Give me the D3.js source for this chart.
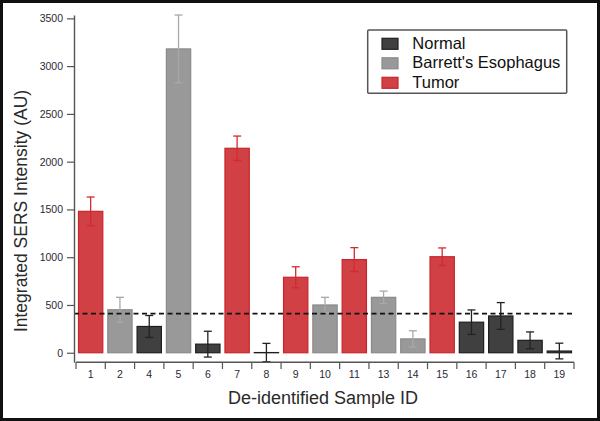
<!DOCTYPE html>
<html>
<head>
<meta charset="utf-8">
<script src="https://cdn.jsdelivr.net/npm/d3@7"></script>
<style>
  html, body { margin: 0; padding: 0; background: #fff; }
  svg { display: block; }
  text { font-family: "Liberation Sans", Arial, Helvetica, sans-serif; }
</style>
</head>
<body>
<svg id="chart" width="600" height="421"></svg>
<script>
// ---- data ----
const sampleIds = ["1","2","4","5","6","7","8","9","10","11","13","14","15","16","17","18","19"];
const groups    = ["T","B","N","B","N","T","N","T","B","T","B","B","T","N","N","N","N"];
const intensity = [1480, 450, 275, 3180, 90, 2140, 2, 790, 500, 975, 580, 145, 1005, 320, 385, 130, 18];
const errors    = [150, 130, 115, 355, 135, 128, 96, 110, 80, 125, 65, 85, 92, 128, 140, 88, 82];
const yTicks    = [0, 500, 1000, 1500, 2000, 2500, 3000, 3500];
const threshold = 410;
const legendLabels = ["Normal", "Barrett's Esophagus", "Tumor"];
const legendKeys   = ["N", "B", "T"];

const fills   = { N: "#404040", B: "#999999", T: "#d04045" };
const strokes = { N: "#1e1e1e", B: "#8a8a8a", T: "#c8262c" };
const errCol  = { N: "#222222", B: "#a8a8a8", T: "#d22a30" };

const svg = d3.select("#chart");

// frame
svg.append("rect").attr("x", 1.5).attr("y", 1.5).attr("width", 597).attr("height", 418)
  .attr("fill", "#fff").attr("stroke", "#111").attr("stroke-width", 3);

const x = d3.scaleBand().domain(sampleIds).range([76, 574]).padding(0);
const y = d3.scaleLinear().domain([-100, 3535]).range([362.3, 15]);
const bw = x.bandwidth();
const barFrac = 0.83;

const data = sampleIds.map((id, i) => ({ id, g: groups[i], v: intensity[i], e: errors[i] }));

// bars
svg.append("g").selectAll("rect").data(data).join("rect")
  .attr("x", d => x(d.id) + bw * (1 - barFrac) / 2)
  .attr("width", bw * barFrac)
  .attr("y", d => y(d.v))
  .attr("height", d => Math.max(0, y(0) - y(d.v)))
  .attr("fill", d => fills[d.g])
  .attr("stroke", d => strokes[d.g])
  .attr("stroke-width", 1.2);

// error bars
const eg = svg.append("g").selectAll("g").data(data).join("g")
  .attr("stroke", d => errCol[d.g]).attr("stroke-width", 1.3).attr("fill", "none");
eg.append("line")
  .attr("x1", d => x(d.id) + bw / 2).attr("x2", d => x(d.id) + bw / 2)
  .attr("y1", d => y(d.v + d.e)).attr("y2", d => y(d.v - d.e));
eg.append("line")
  .attr("x1", d => x(d.id) + bw / 2 - 4).attr("x2", d => x(d.id) + bw / 2 + 4)
  .attr("y1", d => y(d.v + d.e)).attr("y2", d => y(d.v + d.e));
eg.append("line")
  .attr("x1", d => x(d.id) + bw / 2 - 4).attr("x2", d => x(d.id) + bw / 2 + 4)
  .attr("y1", d => y(d.v - d.e)).attr("y2", d => y(d.v - d.e));

// threshold dashed line
svg.append("line")
  .attr("x1", 74).attr("x2", 574)
  .attr("y1", y(threshold)).attr("y2", y(threshold))
  .attr("stroke", "#111").attr("stroke-width", 1.8)
  .attr("stroke-dasharray", "5,3.5");

// y axis
const yAxis = svg.append("g").attr("transform", "translate(74,0)")
  .call(d3.axisLeft(y).tickValues(yTicks).tickFormat(d3.format("d"))
    .tickSize(7).tickSizeOuter(0).tickPadding(4));
yAxis.select(".domain").attr("stroke", "#555").attr("stroke-width", 1.4);
yAxis.selectAll(".tick line").attr("stroke", "#555").attr("stroke-width", 1.2);
yAxis.selectAll(".tick text").attr("fill", "#2a2a35").attr("font-size", 10.5)
  .attr("font-family", "Liberation Sans, Arial, sans-serif");

// x axis
const xg = svg.append("g");
xg.append("line").attr("x1", x.range()[0]).attr("x2", x.range()[1])
  .attr("y1", 362.3).attr("y2", 362.3).attr("stroke", "#555").attr("stroke-width", 1.4);
const boundaries = sampleIds.map(id => x(id)).concat([x.range()[1]]);
xg.selectAll("line.tk").data(boundaries).join("line").attr("class", "tk")
  .attr("x1", d => d).attr("x2", d => d)
  .attr("y1", 362.3).attr("y2", 369).attr("stroke", "#555").attr("stroke-width", 1.2);
xg.selectAll("text").data(sampleIds).join("text")
  .attr("x", d => x(d) + bw / 2).attr("y", 377.5)
  .attr("text-anchor", "middle").attr("font-size", 10.5).attr("fill", "#2a2a35")
  .text(d => d);

// axis titles
svg.append("text").attr("x", 323).attr("y", 403.5)
  .attr("text-anchor", "middle").attr("font-size", 18).attr("fill", "#2a2a2a")
  .text("De-identified Sample ID");
svg.append("text").attr("transform", "translate(26.5,211) rotate(-90)")
  .attr("text-anchor", "middle").attr("font-size", 17.5).attr("fill", "#2a2a2a")
  .text("Integrated SERS Intensity (AU)");

// legend
const lg = svg.append("g");
lg.append("rect").attr("x", 367.7).attr("y", 30).attr("width", 199).attr("height", 63.3)
  .attr("fill", "#fff").attr("stroke", "#555").attr("stroke-width", 1.5).attr("rx", 1);
legendKeys.forEach((k, i) => {
  lg.append("rect").attr("x", 382).attr("y", 38.3 + i * 19.5).attr("width", 16).attr("height", 11)
    .attr("fill", fills[k]).attr("stroke", strokes[k]).attr("stroke-width", 1.2);
  lg.append("text").attr("x", 412.3).attr("y", 48.5 + i * 19.5)
    .attr("font-size", 16.5).attr("fill", "#111").text(legendLabels[i]);
});
</script>
</body>
</html>
